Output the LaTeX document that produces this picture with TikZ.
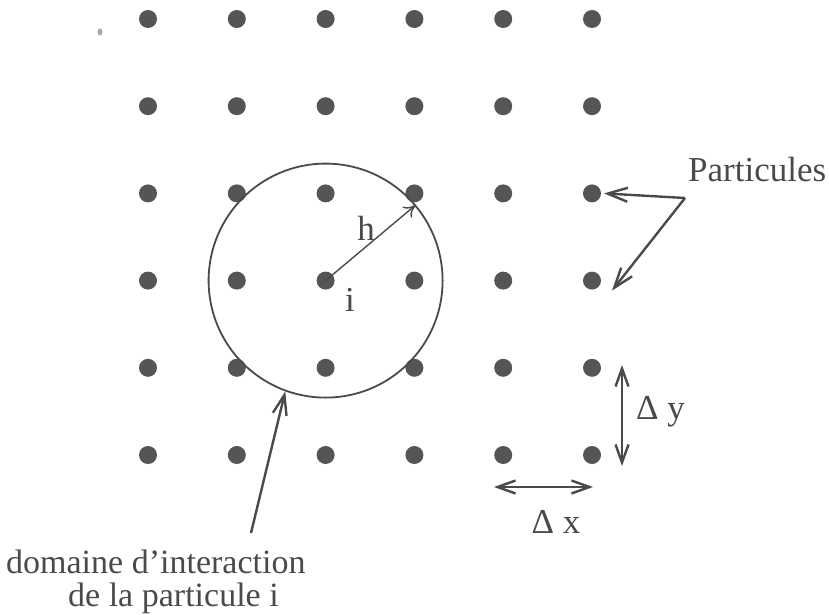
\documentclass[tikz,border=0pt]{standalone}
\usepackage{fontspec}
\setmainfont{Liberation Serif}
\usetikzlibrary{arrows.meta}
\definecolor{ink}{HTML}{4A4A4A}
\definecolor{dotc}{HTML}{555555}
\tikzset{
  particle/.style={circle,fill=dotc,inner sep=0pt,minimum size=18pt},
  lbl/.style={text=ink,font=\fontsize{35}{36}\selectfont,inner sep=0pt},
  barb/.style={draw=ink,line width=2.4pt,{Straight Barb[length=20pt,width=14pt]}-},
  dbarb/.style={draw=ink,line width=2.4pt,{Straight Barb[length=18pt,width=13pt]}-{Straight Barb[length=18pt,width=13pt]}},
  radius/.style={draw=ink,line width=1.4pt,-{To[length=12pt,width=14pt]}},
}
\begin{document}
\begin{tikzpicture}[x=1pt,y=-1pt]
\useasboundingbox (0,0) rectangle (829,615);
\foreach \r in {0,...,5}{
  \foreach \c in {0,...,5}{
    \node[particle] (p\r\c) at ({148+88.8*\c},{19+87.2*\r}) {};
  }
}
\fill[gray!70] (100,32) ellipse (2.5pt and 3.5pt);
% interaction domain
\node[draw=ink,line width=1.8pt,circle,minimum size=234pt,inner sep=0pt] (dom) at (p32.center) {};
\draw[radius] (p32.center) -- (dom.40);
\node[lbl] (h) at (366,228) {h};
\node[lbl] (i) at (350,300) {i};
% Particules
\node[lbl,anchor=west] (part) at (688,170) {Particules};
\coordinate (pj) at (685,198);
\draw[barb] ([xshift=12pt]p25.center) -- (pj);
\draw[barb] ([xshift=20pt,yshift=-10pt]p35.center) -- (pj);
% spacings
\coordinate (dy1) at (622,365);
\coordinate (dy2) at (622,466);
\draw[dbarb] (dy1) -- (dy2);
\node[lbl,anchor=west] (dy) at (636,412) {Δ y};
\coordinate (dx1) at (494,487);
\coordinate (dx2) at (593,487);
\draw[dbarb] (dx1) -- (dx2);
\node[lbl] (dx) at (556,522) {Δ x};
% domain label
\node[lbl,anchor=north west,align=left,font=\fontsize{34}{33}\selectfont] (dl) at (6,550) {domaine d’interaction\\\hspace*{62pt}de la particule i};
\coordinate (tail) at (251,533);
\draw[draw=ink,line width=2.4pt,-{Straight Barb[length=20pt,width=14pt]}] (tail) -- (dom.250);
\end{tikzpicture}
\end{document}
